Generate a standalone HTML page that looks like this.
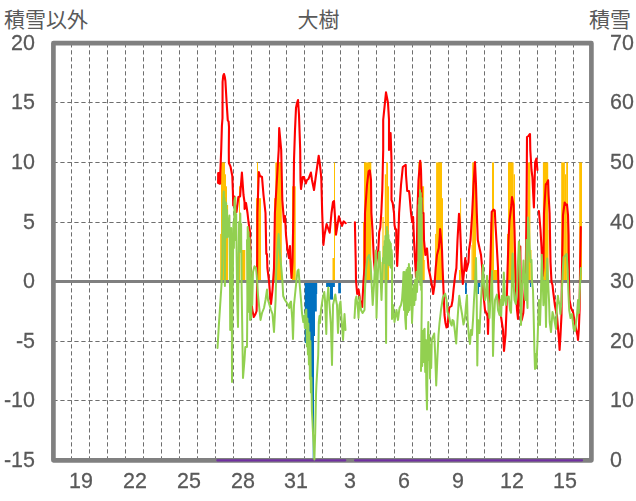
<!DOCTYPE html>
<html lang="ja"><head><meta charset="utf-8"><title>大樹</title>
<style>
html,body{margin:0;padding:0;background:#fff;}
body{width:636px;height:501px;position:relative;overflow:hidden;font-family:"Liberation Sans",sans-serif;color:#595959;}
.yl,.yr,.xl{position:absolute;will-change:transform;transform:scaleY(1.06);transform-origin:center;-webkit-text-stroke:0.25px #595959;font-size:21.5px;line-height:24px;height:24px;white-space:nowrap;}
.yl{left:0;width:35px;text-align:right;}
.yr{left:609.8px;text-align:left;}
.xl{top:469.2px;width:60px;text-align:center;}
</style></head><body>
<svg width="636" height="501" viewBox="0 0 636 501" style="position:absolute;left:0;top:0">
<g stroke="#6e6e6e" stroke-width="1" stroke-dasharray="4.25 2.75" fill="none"><line x1="71.5" y1="43.25" x2="71.5" y2="460.4"/><line x1="89.5" y1="43.25" x2="89.5" y2="460.4"/><line x1="107.5" y1="43.25" x2="107.5" y2="460.4"/><line x1="125.5" y1="43.25" x2="125.5" y2="460.4"/><line x1="143.5" y1="43.25" x2="143.5" y2="460.4"/><line x1="161.5" y1="43.25" x2="161.5" y2="460.4"/><line x1="179.5" y1="43.25" x2="179.5" y2="460.4"/><line x1="197.5" y1="43.25" x2="197.5" y2="460.4"/><line x1="215.5" y1="43.25" x2="215.5" y2="460.4"/><line x1="233.5" y1="43.25" x2="233.5" y2="460.4"/><line x1="251.5" y1="43.25" x2="251.5" y2="460.4"/><line x1="269.5" y1="43.25" x2="269.5" y2="460.4"/><line x1="286.5" y1="43.25" x2="286.5" y2="460.4"/><line x1="304.5" y1="43.25" x2="304.5" y2="460.4"/><line x1="322.5" y1="43.25" x2="322.5" y2="460.4"/><line x1="340.5" y1="43.25" x2="340.5" y2="460.4"/><line x1="358.5" y1="43.25" x2="358.5" y2="460.4"/><line x1="376.5" y1="43.25" x2="376.5" y2="460.4"/><line x1="394.5" y1="43.25" x2="394.5" y2="460.4"/><line x1="412.5" y1="43.25" x2="412.5" y2="460.4"/><line x1="430.5" y1="43.25" x2="430.5" y2="460.4"/><line x1="448.5" y1="43.25" x2="448.5" y2="460.4"/><line x1="466.5" y1="43.25" x2="466.5" y2="460.4"/><line x1="484.5" y1="43.25" x2="484.5" y2="460.4"/><line x1="501.5" y1="43.25" x2="501.5" y2="460.4"/><line x1="519.5" y1="43.25" x2="519.5" y2="460.4"/><line x1="537.5" y1="43.25" x2="537.5" y2="460.4"/><line x1="555.5" y1="43.25" x2="555.5" y2="460.4"/><line x1="573.5" y1="43.25" x2="573.5" y2="460.4"/><line x1="53.35" y1="102.5" x2="591.4" y2="102.5"/><line x1="53.35" y1="162.5" x2="591.4" y2="162.5"/><line x1="53.35" y1="222.5" x2="591.4" y2="222.5"/><line x1="53.35" y1="341.5" x2="591.4" y2="341.5"/><line x1="53.35" y1="400.5" x2="591.4" y2="400.5"/></g>
<g fill="#FFC000"><rect x="220.2" y="233.9" width="0.8" height="47.7"/><rect x="221.0" y="162.4" width="4.0" height="119.2"/><rect x="225.0" y="174.3" width="1.0" height="107.3"/><rect x="226.0" y="186.3" width="1.0" height="95.3"/><rect x="227.0" y="205.0" width="1.1" height="76.6"/><rect x="239.0" y="186.3" width="1.0" height="95.3"/><rect x="241.7" y="250.0" width="3.6" height="31.6"/><rect x="256.0" y="198.2" width="1.0" height="83.4"/><rect x="257.0" y="162.4" width="1.0" height="119.2"/><rect x="258.0" y="198.2" width="3.0" height="83.4"/><rect x="274.0" y="198.2" width="1.3" height="83.4"/><rect x="275.3" y="162.4" width="6.5" height="119.2"/><rect x="292.0" y="186.3" width="3.7" height="95.3"/><rect x="332.5" y="258.0" width="1.5" height="23.6"/><rect x="334.0" y="162.4" width="1.0" height="119.2"/><rect x="363.0" y="222.0" width="1.0" height="59.6"/><rect x="364.0" y="162.4" width="7.3" height="119.2"/><rect x="381.5" y="262.0" width="0.9" height="19.6"/><rect x="382.4" y="217.0" width="1.2" height="64.6"/><rect x="383.6" y="258.0" width="1.2" height="23.6"/><rect x="384.8" y="174.3" width="1.4" height="107.3"/><rect x="386.2" y="162.4" width="1.8" height="119.2"/><rect x="388.0" y="186.3" width="1.0" height="95.3"/><rect x="418.3" y="162.4" width="3.4" height="119.2"/><rect x="421.7" y="186.3" width="2.4" height="95.3"/><rect x="424.1" y="260.0" width="0.7" height="21.6"/><rect x="435.1" y="233.9" width="1.0" height="47.7"/><rect x="436.1" y="162.4" width="5.9" height="119.2"/><rect x="442.0" y="198.2" width="1.0" height="83.4"/><rect x="459.0" y="270.0" width="1.1" height="11.6"/><rect x="460.1" y="198.2" width="1.0" height="83.4"/><rect x="471.5" y="245.0" width="0.7" height="36.6"/><rect x="472.2" y="162.4" width="3.8" height="119.2"/><rect x="490.4" y="222.0" width="1.6" height="59.6"/><rect x="492.0" y="162.4" width="2.0" height="119.2"/><rect x="494.0" y="270.0" width="3.5" height="11.6"/><rect x="507.0" y="233.9" width="1.0" height="47.7"/><rect x="508.0" y="162.4" width="5.6" height="119.2"/><rect x="513.6" y="174.3" width="1.4" height="107.3"/><rect x="525.8" y="200.0" width="1.8" height="81.6"/><rect x="527.6" y="162.4" width="2.8" height="119.2"/><rect x="530.4" y="250.0" width="1.1" height="31.6"/><rect x="542.9" y="162.4" width="5.3" height="119.2"/><rect x="548.2" y="230.0" width="0.4" height="51.6"/><rect x="561.2" y="162.4" width="3.7" height="119.2"/><rect x="564.9" y="174.3" width="1.3" height="107.3"/><rect x="566.2" y="162.4" width="1.8" height="119.2"/><rect x="568.0" y="215.0" width="0.6" height="66.6"/><rect x="579.2" y="162.4" width="2.8" height="119.2"/></g>
<g fill="#0070C0"><polygon points="304.8,281.6 304.8,343.0 306.5,343.0 309.5,355.0 310.5,372.0 312.0,395.0 312.7,433.0 312.7,459.0 313.3,459.0 314.0,433.0 314.0,336.0 315.0,336.0 315.0,311.5 316.8,311.5 316.8,294.0 317.2,294.0 317.2,281.6"/><rect x="326.1" y="281.6" width="3.9" height="5.4"/><rect x="330.0" y="281.6" width="3.0" height="18.0"/><rect x="333.0" y="281.6" width="1.9" height="5.4"/><rect x="338.2" y="281.6" width="2.7" height="11.7"/><rect x="465.0" y="281.6" width="1.8" height="12.4"/><rect x="477.5" y="281.6" width="1.5" height="12.4"/><rect x="479.0" y="281.6" width="1.4" height="5.4"/><rect x="530.0" y="281.6" width="1.2" height="5.4"/></g>
<line x1="53.4" y1="281.5" x2="591.4" y2="281.5" stroke="#808080" stroke-width="3"/>
<rect x="53.4" y="43.2" width="538.0" height="417.1" fill="none" stroke="#808080" stroke-width="4.67" stroke-linejoin="round"/>
<g stroke="#7030A0" stroke-width="2.1" fill="none" stroke-linecap="round"><line x1="217.3" y1="460.35" x2="345.3" y2="460.35"/><line x1="355" y1="460.35" x2="582.1" y2="460.35"/></g>
<g stroke="#FF0000" stroke-width="2.1" fill="none" stroke-linejoin="round" stroke-linecap="round"><polyline points="218.1,183.0 218.2,173.0 218.6,183.0 219.0,173.0 219.4,183.6 219.8,173.0 220.1,183.8 220.3,172.5 221.2,150.0 221.9,126.0 222.5,118.0 222.6,82.0 223.2,76.0 224.0,74.0 224.7,76.5 225.4,81.0 226.6,102.0 227.8,120.6 228.6,121.4 229.0,127.0 228.8,150.0 228.9,163.0 230.5,166.5 232.3,176.0 232.9,192.0 233.2,205.5 234.4,196.5 235.3,208.0 236.5,212.0 238.4,197.0 240.1,196.5 241.9,172.5 243.5,195.0 244.5,202.0 244.6,209.0 246.0,203.0 247.5,213.0 248.5,222.0 250.0,232.0 250.5,268.0 251.3,300.0 252.3,310.0 253.8,317.0 255.5,314.0 256.6,311.0 257.0,290.0 257.2,260.0 257.4,213.0 258.8,172.0 260.0,176.0 262.0,177.0 263.5,195.0 265.5,213.0 266.3,254.0 267.0,254.0 267.4,268.0 269.0,281.0 270.5,300.0 271.0,304.0 272.5,290.0 274.0,268.0 274.9,213.0 278.7,150.0 279.2,128.0 281.2,150.0 282.3,200.0 284.0,222.0 285.0,216.0 286.0,235.0 287.5,250.0 289.0,258.0 290.0,246.0 290.5,262.0 291.5,278.0 292.5,262.0 293.4,213.0 294.0,160.0 295.0,130.0 296.0,108.0 297.0,103.0 298.0,100.0 299.0,115.0 300.2,150.0 300.5,180.0 301.0,189.0 302.7,177.0 304.0,177.0 305.8,183.5 307.0,180.0 308.5,179.0 310.9,172.6 312.0,180.0 314.0,190.0 316.0,175.0 318.7,155.7 320.0,165.0 321.0,175.0 321.3,179.0 322.2,213.0 323.0,235.0 323.4,245.0 324.5,235.0 325.5,230.0 326.6,224.0 328.0,228.0 329.7,232.7 331.5,213.0 333.0,202.0 334.0,201.0 335.5,225.0 336.0,234.6 337.5,225.0 338.9,216.3 340.5,222.0 342.0,225.8 343.6,221.4 345.8,223.2"/><polyline points="354.9,222.2 355.7,260.0 356.0,281.0 357.2,294.0 358.6,289.6 360.0,300.0 362.2,307.0 363.5,281.0 364.5,268.0 365.0,213.0 367.0,185.0 368.6,171.4 369.8,170.4 371.0,180.0 371.4,213.0 372.5,230.0 374.0,262.0 375.0,272.0 376.3,262.0 378.3,250.0 379.2,232.0 380.3,227.5 381.3,213.0 382.3,190.0 383.2,150.0 383.2,120.0 386.0,92.4 388.0,103.0 389.0,120.0 389.0,150.0 390.6,133.0 391.5,160.0 391.5,200.0 392.7,203.0 394.0,213.0 394.5,225.0 395.3,229.0 396.2,229.5 396.4,246.0 397.2,266.0 398.1,245.0 399.1,213.0 401.0,185.0 402.8,167.0 404.0,166.0 405.7,164.8 406.0,175.0 407.2,191.0 409.0,191.0 409.5,195.0 411.0,213.0 412.2,222.0 413.1,217.0 414.0,240.0 415.0,260.0 416.0,277.0 416.6,268.0 417.4,213.0 418.5,180.0 420.2,160.7 421.0,170.0 421.5,190.0 422.3,213.0 423.5,213.0 424.0,240.0 425.4,255.0 427.0,248.4 428.5,268.0 430.0,275.0 431.5,283.0 432.6,289.6 433.2,294.0 434.5,285.0 435.7,268.0 437.0,255.0 438.8,248.0 439.8,236.0 440.1,229.0 441.0,238.0 442.0,250.0 442.6,268.0 443.5,290.0 444.5,315.0 445.5,323.0 446.5,327.4 447.5,327.0 448.5,315.0 449.3,307.5 451.5,306.0 452.6,300.0 453.5,290.0 455.2,275.0 456.4,268.0 457.5,240.0 459.0,213.8 460.0,225.0 461.0,250.0 461.5,262.0 462.8,284.0 464.0,272.0 465.3,258.0 466.3,271.0 468.5,262.0 469.0,250.0 470.5,240.0 472.2,213.0 473.5,185.0 475.0,162.0 476.0,185.0 476.8,213.0 477.8,240.0 479.7,249.0 481.0,255.0 482.2,268.0 483.0,290.0 485.0,310.0 487.5,316.0 488.0,334.0 489.0,301.5 490.2,268.0 491.0,240.0 491.7,212.0 493.5,209.7 494.8,210.7 495.5,225.0 497.0,250.0 498.0,268.0 498.5,290.0 500.0,310.0 503.0,330.0 504.0,351.0 505.5,335.0 506.5,310.0 507.6,268.0 508.5,240.0 509.5,220.7 511.4,205.0 512.0,197.0 513.6,205.0 514.5,230.0 515.4,268.0 516.0,290.0 517.0,310.0 518.0,319.0 518.7,300.0 519.3,252.0 520.3,246.5 520.8,300.0 521.2,321.0 522.0,319.0 523.3,313.0 524.6,291.0 525.8,268.0 526.5,213.0 527.0,137.0 528.5,136.0 530.0,134.0 530.3,150.0 531.5,170.0 532.4,177.0 533.0,190.0 533.9,207.5 534.5,185.0 535.1,162.6 536.4,158.5 537.4,170.0"/><polyline points="538.9,211.0 540.5,230.0 541.5,247.0 542.2,265.0 542.7,276.0 543.4,268.0 544.0,213.0 545.8,184.0 546.5,184.0 548.1,180.3 548.6,195.0 549.6,213.0 550.5,262.0 551.5,282.0 552.5,285.0 553.0,290.0 555.0,306.0 557.0,316.0 559.0,340.0 559.6,350.0 560.5,335.0 561.5,315.0 562.0,268.0 563.0,215.0 564.7,202.5 565.8,205.0 567.0,204.5 568.0,215.0 568.6,235.0 569.0,282.0 569.5,300.0 571.0,308.0 573.0,312.0 575.0,324.0 577.6,336.0 578.0,340.0 578.8,330.0 579.6,310.0 580.0,275.0 580.8,227.0"/></g>
<g stroke="#92D050" stroke-width="2" fill="none" stroke-linejoin="round" stroke-linecap="round"><polyline points="217.5,348.0 219.0,323.0 220.5,300.0 221.6,283.0 222.3,262.0 222.8,220.0 223.3,200.0 223.8,191.5 224.2,232.0 224.5,198.0 224.9,286.0 225.4,202.0 225.8,238.0 226.2,203.0 226.6,236.0 227.0,210.0 227.5,237.0 228.2,232.0 228.8,222.0 229.4,215.5 229.9,262.0 230.2,330.0 230.5,262.0 231.2,228.0 231.7,262.0 232.0,382.0 232.5,300.0 233.0,262.0 233.4,222.0 233.9,248.0 234.5,201.0 235.2,197.5 235.7,240.0 236.2,214.0 236.7,262.0 237.2,300.0 238.0,327.0 238.6,262.0 239.1,222.0 239.6,250.0 240.3,213.5 240.7,252.0 241.1,224.0 241.6,285.0 243.0,378.0 244.5,360.0 245.3,347.0 247.0,347.0 247.4,300.0 247.0,240.0 247.4,285.0 247.7,227.0 248.2,300.0 248.6,232.0 249.1,312.0 249.6,238.0 250.1,320.0 250.6,250.0 251.2,318.0 251.7,290.0 252.2,305.0 253.0,272.0 254.5,266.3 256.0,268.0 256.7,275.0 258.0,295.0 259.5,310.0 260.5,320.0 262.0,313.0 264.0,308.0 265.5,300.0 267.0,289.6 268.0,300.0 269.5,305.0 271.0,310.0 272.5,314.0 274.0,332.0 275.6,300.0 276.2,272.0 277.6,246.0 278.6,234.0 280.0,254.0 281.5,270.0 282.4,281.0 283.2,296.0 285.0,300.0 287.3,303.5 289.4,308.0 290.0,303.0 291.0,301.5 292.3,320.0 293.0,339.0 294.0,305.0 294.5,300.0 296.0,285.0 297.5,271.0 298.5,269.5 299.4,281.0 301.0,300.0 302.0,313.0 303.3,322.0 304.2,316.0 304.9,328.0 305.6,312.0 306.3,309.6 306.9,346.5 307.4,318.4 307.9,354.5 308.4,323.5 308.9,364.4 309.4,332.2 309.9,379.1 310.4,341.0 310.9,392.5 311.4,377.5 311.9,411.0 312.4,420.0 313.0,433.0 314.4,459.5 315.2,433.0 316.0,395.0 316.4,385.0 318.2,355.0 318.5,341.0 318.8,322.0 319.5,316.0 320.0,323.0 321.0,310.0 322.7,298.3 324.3,292.0 325.0,300.0 326.3,334.0 327.0,302.0 328.3,287.6 329.5,305.0 330.9,325.0 332.0,365.0 333.0,305.0 335.3,294.5 336.0,300.0 337.0,305.0 338.0,333.0 339.5,305.0 340.5,301.5 341.5,318.0 343.0,340.0 344.5,314.0 345.5,330.0"/><polyline points="354.5,318.0 355.5,300.0 356.4,296.5 358.0,310.0 358.5,318.0 359.5,297.0 360.5,305.0 361.0,310.0 362.6,313.0 364.5,310.0 365.0,290.0 366.0,270.0 367.5,258.0 369.0,255.0 370.5,262.0 371.5,281.0 372.7,305.0 374.0,285.0 374.8,270.0 375.9,250.5 376.5,318.0 377.8,275.0 378.9,252.5 379.6,251.6 380.5,275.0 381.5,300.0 382.4,275.0 383.0,258.0 383.5,263.0 383.9,246.5 384.3,263.0 384.7,241.0 385.0,263.0 385.4,236.0 385.7,290.0 386.1,343.0 386.5,280.0 386.8,227.0 387.2,263.0 387.6,231.0 388.0,263.0 388.4,235.0 388.8,265.0 389.2,240.0 389.6,265.0 390.0,242.0 390.4,267.0 390.8,243.5 391.2,268.0 391.6,250.0 392.1,258.0 392.0,319.0 393.0,305.0 394.5,322.0 396.5,310.0 398.0,320.0 399.5,308.0 401.0,305.0 402.0,300.0 403.0,285.0 403.5,272.0 404.0,310.0 404.6,272.0 405.2,318.0 406.0,329.0 406.5,270.0 407.0,315.0 407.6,268.0 408.2,312.0 408.9,264.0 409.5,310.0 410.0,268.0 410.6,305.0 411.2,275.0 412.0,323.0 413.0,300.0 413.8,285.0 414.3,305.0 415.0,280.0 415.6,300.0 416.5,272.0 417.0,292.0 418.0,262.0 418.4,275.0 418.7,205.0 419.0,275.0 419.3,198.0 419.7,280.0 420.0,190.3 420.4,285.0 420.8,193.0 421.2,290.0 421.5,198.0 421.8,300.0 421.0,371.0 421.6,335.0 422.2,366.0 422.8,331.0 423.4,362.0 424.0,330.0 424.6,328.8 425.2,372.0 425.8,340.0 426.3,385.0 427.0,409.5 427.8,340.0 428.3,322.0 428.8,360.0 429.3,335.0 430.0,378.5 430.6,345.0 431.2,368.0 431.8,340.0 432.4,338.0 434.2,333.5 435.2,355.0 436.2,385.5 437.3,360.0 438.5,335.0 439.5,323.0 441.0,310.0 443.0,297.0 445.2,293.7 446.5,300.0 447.5,312.0 449.0,316.0 450.3,322.6 451.7,325.5 452.5,320.0 453.6,321.0 454.5,328.0 456.2,343.4 457.5,320.0 458.5,305.0 459.3,295.8 460.5,305.0 462.2,315.0 463.5,324.5 465.0,318.0 466.0,305.0 467.0,295.2 467.6,320.0 469.0,338.0 470.0,344.0 471.0,330.0 472.0,335.0 473.0,320.0 474.0,300.0 475.2,280.0 476.0,258.0 476.7,300.0 477.3,365.6 478.0,320.0 479.5,333.0 481.0,300.0 482.2,280.0 483.0,265.0 484.0,285.0 485.0,300.0 486.0,295.0 487.0,275.7 488.0,300.0 489.5,318.0 490.5,300.0 491.3,285.0 492.0,271.0 492.5,300.0 493.0,356.0 494.0,320.0 495.0,300.0 496.9,294.6 498.0,310.0 499.5,315.0 500.5,300.0 501.2,316.0 501.8,296.0 503.0,305.0 503.8,272.6 505.0,300.0 506.0,305.0 507.0,297.0 508.8,296.5 510.0,310.0 511.0,312.8 511.7,290.0 512.6,253.4 513.5,281.0 514.5,300.0 515.8,304.0 517.0,290.0 518.0,262.0 518.9,241.5 519.8,252.0 520.3,290.0 521.0,325.0 522.0,290.0 523.5,260.5 524.5,283.0 525.3,300.0 526.0,285.0 526.5,240.0 527.0,300.0 527.5,308.0 528.0,217.6 529.0,230.0 529.5,245.0 530.5,262.0 531.5,260.0 532.0,281.0 533.0,290.0 533.6,314.0 534.4,350.0 535.0,369.0 535.8,354.0 536.4,368.0 537.0,352.0 537.6,340.0 538.4,314.0 539.0,300.0 540.0,325.0 540.8,300.0 541.8,254.7 543.0,290.0 543.4,305.3 544.7,281.0 545.5,300.0 546.0,327.0 546.6,290.0 547.2,258.5 548.0,281.0 549.0,300.0 549.7,322.0 551.0,332.0 552.5,312.0 554.0,318.0 556.0,329.0 557.0,305.0 557.9,295.8 558.5,300.0 559.5,305.0 560.4,314.0 561.5,300.0 562.3,281.0 563.5,257.0 565.0,256.0 566.7,254.0 567.7,270.0 568.3,290.0 569.2,310.0 570.5,318.0 572.0,314.0 573.6,329.0 575.0,331.0 577.0,315.0 578.0,300.0 578.8,313.0 579.7,292.0 580.8,268.0"/></g>
<g fill="#595959" font-family="&quot;Liberation Sans&quot;, &quot;Noto Sans CJK JP&quot;, sans-serif" font-size="21"><text x="4" y="27">積雪以外</text><text x="297.6" y="27">大樹</text><text x="589" y="27">積雪</text></g>
</svg>
<div class="yl" style="top:30.8px">20</div>
<div class="yl" style="top:90.3px">15</div>
<div class="yl" style="top:149.9px">10</div>
<div class="yl" style="top:209.5px">5</div>
<div class="yl" style="top:269.1px">0</div>
<div class="yl" style="top:328.7px">-5</div>
<div class="yl" style="top:388.3px">-10</div>
<div class="yl" style="top:447.9px">-15</div>
<div class="yr" style="top:30.8px">70</div>
<div class="yr" style="top:90.3px">60</div>
<div class="yr" style="top:149.9px">50</div>
<div class="yr" style="top:209.5px">40</div>
<div class="yr" style="top:269.1px">30</div>
<div class="yr" style="top:328.7px">20</div>
<div class="yr" style="top:388.3px">10</div>
<div class="yr" style="top:447.9px">0</div>
<div class="xl" style="left:51.1px">19</div>
<div class="xl" style="left:104.9px">22</div>
<div class="xl" style="left:158.7px">25</div>
<div class="xl" style="left:212.5px">28</div>
<div class="xl" style="left:266.3px">31</div>
<div class="xl" style="left:320.1px">3</div>
<div class="xl" style="left:373.9px">6</div>
<div class="xl" style="left:427.7px">9</div>
<div class="xl" style="left:481.5px">12</div>
<div class="xl" style="left:535.3px">15</div>
</body></html>
